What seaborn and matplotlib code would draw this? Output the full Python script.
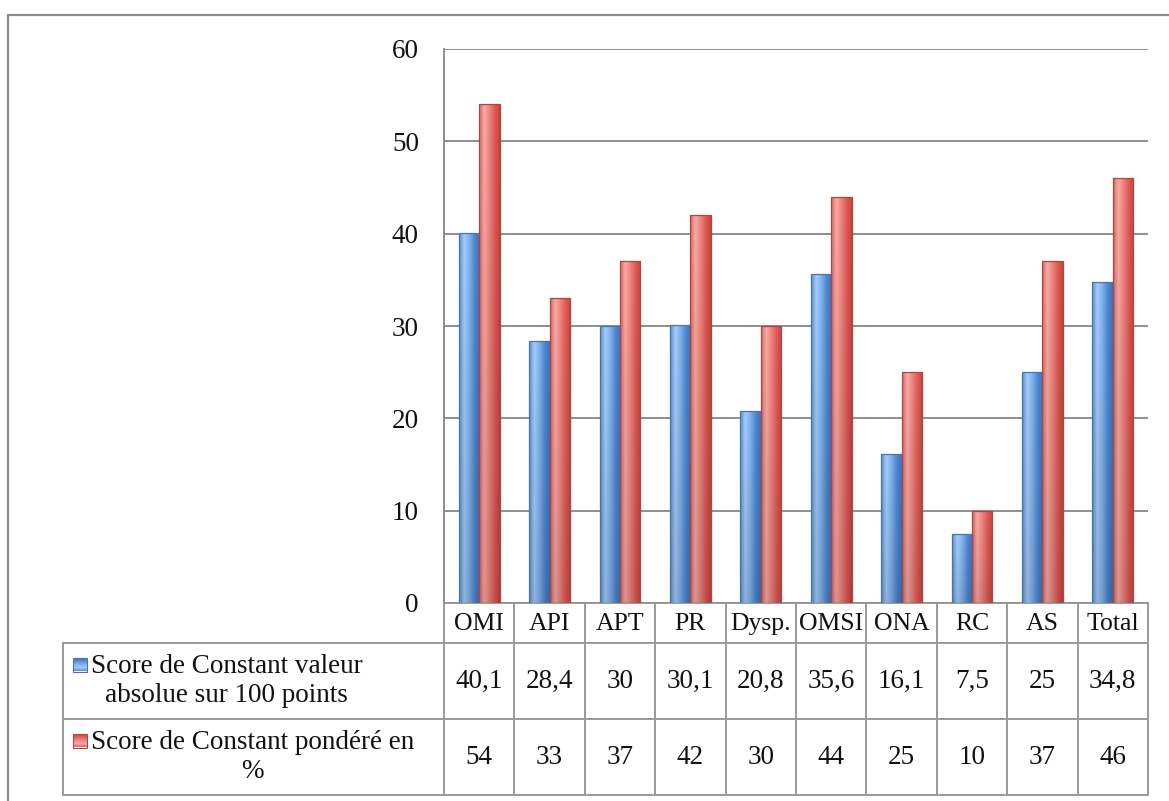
import numpy as np
import pandas as pd
import matplotlib
matplotlib.use("Agg")
import matplotlib.pyplot as plt
from matplotlib.colors import to_rgb
from matplotlib.patches import Rectangle
import seaborn as sns

categories = ["OMI", "API", "APT", "PR", "Dysp.", "OMSI", "ONA", "RC", "AS", "Total"]
series_names = ["Score de Constant valeur\nabsolue sur 100 points",
                "Score de Constant pondéré en\n%"]
absolute_scores = [40.1, 28.4, 30, 30.1, 20.8, 35.6, 16.1, 7.5, 25, 34.8]
weighted_scores = [54, 33, 37, 42, 30, 44, 25, 10, 37, 46]
y_ticks = [0, 10, 20, 30, 40, 50, 60]

sns.set_theme(style="white")
plt.rcParams["font.family"] = ["Liberation Serif", "DejaVu Serif"]

FS = 19.5
W, H = 1169, 801
fig = plt.figure(figsize=(W / 100, H / 100), dpi=100)
ax = fig.add_axes([444 / W, 1 - 603 / H, (1148 - 444) / W, (603 - 49) / H])

df = pd.DataFrame({
    "cat": categories * 2,
    "serie": [series_names[0]] * len(categories) + [series_names[1]] * len(categories),
    "val": absolute_scores + weighted_scores,
})

blue_base = "#4f8bd6"
red_base = "#e0554f"
sns.barplot(data=df, x="cat", y="val", hue="serie", order=categories,
            hue_order=series_names, palette=[blue_base, red_base],
            width=0.58, gap=0, legend=False, ax=ax, zorder=2)

# horizontal sheen profiles for the two series
blue_stops = [to_rgb(c) for c in ["#5b90d3", "#a4cdf9", "#7fb0ec", "#4f89d2", "#3b73bd"]]
red_stops = [to_rgb(c) for c in ["#dc6660", "#f9aaa5", "#ee837e", "#e05b55", "#c9443e"]]


def gradient_image(stops, nx=40, ny=60, deepen=0.12):
    pos = np.linspace(0, 1, len(stops))
    xs = np.linspace(0, 1, nx)
    row = np.stack([np.interp(xs, pos, [s[k] for s in stops]) for k in range(3)], axis=-1)
    img = np.repeat(row[None, :, :], ny, axis=0)
    # slightly deeper tone toward the base of the bar
    shade = np.linspace(0.0, deepen, ny)[:, None, None]
    img = img * (1 - shade)
    return np.clip(img, 0, 1)


bars = [p for p in ax.patches if p.get_height() > 0]
n = len(categories)
for i, bar in enumerate(bars):
    stops = blue_stops if i < n else red_stops
    edge = "#4a74a8" if i < n else "#a84844"
    x0, y0 = bar.get_x(), bar.get_y()
    w, h = bar.get_width(), bar.get_height()
    bar.set_facecolor("none")
    bar.set_edgecolor(edge)
    bar.set_linewidth(0.9)
    bar.set_zorder(3)
    im = ax.imshow(gradient_image(stops), extent=[x0, x0 + w, y0, y0 + h],
                   aspect="auto", origin="upper", zorder=2.5, interpolation="bilinear")
    im.set_clip_path(bar)

ax.set_xlim(-0.5, n - 0.5)
ax.set_ylim(0, 60)
ax.set_yticks(y_ticks)
ax.set_yticklabels([str(t) for t in y_ticks], fontsize=FS)
ax.tick_params(axis="y", length=0, pad=18, colors="#111111")
ax.set_xticks([])
ax.set_xlabel("")
ax.set_ylabel("")
ax.set_axisbelow(True)
ax.yaxis.grid(True, color="#8e8e8e", linewidth=1.4)
for s in ["top", "right", "bottom"]:
    ax.spines[s].set_visible(False)
ax.spines["left"].set_color("#8e8e8e")
ax.spines["left"].set_linewidth(1.4)

# overlay in pixel space for the data table and outer frame
ov = fig.add_axes([0, 0, 1, 1], zorder=-1)
ov.set_xlim(0, W)
ov.set_ylim(H, 0)
ov.axis("off")
ov.patch.set_alpha(0)

grey = "#9a9a9a"
lw = 1.4
# outer chart frame
ov.plot([8, W], [15, 15], color="#8a8a8a", lw=1.6)
ov.plot([8, 8], [15, H], color="#8a8a8a", lw=1.6)

to_px = lambda xd: ax.transData.transform((xd, 0))[0]
edges = [to_px(i - 0.5) for i in range(n + 1)]
y_axis_px = H - ax.transData.transform((0, 0))[1]
row_tops = [y_axis_px, 643, 719, 795]
label_left = 63

# horizontal rules
ov.plot([edges[0], edges[-1]], [row_tops[0], row_tops[0]], color=grey, lw=lw)
for yv in row_tops[1:]:
    ov.plot([label_left, edges[-1]], [yv, yv], color=grey, lw=lw)
# vertical rules
for xv in edges:
    ov.plot([xv, xv], [row_tops[0], row_tops[-1]], color=grey, lw=lw)
ov.plot([label_left, label_left], [row_tops[1], row_tops[-1]], color=grey, lw=lw)


def fmt(v):
    return f"{v:g}".replace(".", ",")


for i, cat in enumerate(categories):
    xc = (edges[i] + edges[i + 1]) / 2
    ov.text(xc, (row_tops[0] + row_tops[1]) / 2 + 1, cat, ha="center", va="center",
            fontsize=FS - 1, color="#111111")
    ov.text(xc, (row_tops[1] + row_tops[2]) / 2, fmt(absolute_scores[i]), ha="center",
            va="center", fontsize=FS, color="#111111")
    ov.text(xc, (row_tops[2] + row_tops[3]) / 2, fmt(weighted_scores[i]), ha="center",
            va="center", fontsize=FS, color="#111111")

# series labels with colour keys
for k, (name, stops) in enumerate(zip(series_names, [blue_stops, red_stops])):
    top, bot = row_tops[k + 1], row_tops[k + 2]
    yc = (top + bot) / 2
    ov.text(91, yc, name, ha="left", va="center", multialignment="center",
            fontsize=FS, color="#111111", linespacing=1.2)
    ky = yc - 16.5
    key = Rectangle((73, ky - 7), 14, 14, facecolor="none",
                    edgecolor="#4a74a8" if k == 0 else "#a84844", lw=0.8, zorder=3)
    ov.add_patch(key)
    kim = ov.imshow(gradient_image(stops, deepen=0.0).transpose(1, 0, 2)[::-1],
                    extent=[73, 87, ky + 7, ky - 7], aspect="auto", zorder=2)
    kim.set_clip_path(key)
ov.set_xlim(0, W)
ov.set_ylim(H, 0)

fig.savefig("out.png", dpi=100, facecolor="white")
